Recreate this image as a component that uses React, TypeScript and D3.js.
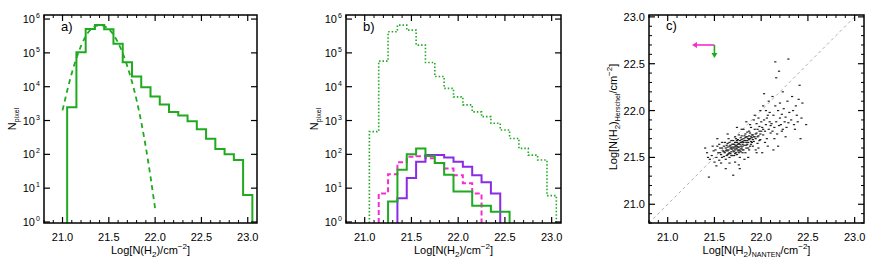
import React from 'react';
import * as d3 from 'd3';

const W = 872;
const H = 263;

// ---- data ----
const binWidth = 0.1;

// a) full map histogram
const aBinStart = [21.05, 21.15, 21.25, 21.35, 21.45, 21.55, 21.65, 21.75, 21.85, 21.95, 22.05, 22.15, 22.25, 22.35, 22.45, 22.55, 22.65, 22.75, 22.85, 22.95];
const aCounts = [2450, 105000, 510000, 670000, 500000, 185000, 53000, 20000, 9700, 5100, 3000, 1800, 1400, 950, 550, 290, 145, 100, 68, 6.3];
// a) log-normal fit (dashed)
const aFitX = [21.0, 21.1, 21.2, 21.3, 21.4, 21.5, 21.6, 21.7, 21.8, 21.9, 22.0];
const aFitY = [2000, 25000, 160000, 480000, 660000, 500000, 200000, 40000, 4000, 160, 2.5];

// b) whole region (dotted) + three sub regions
const bAllStart = [21.05, 21.15, 21.25, 21.35, 21.45, 21.55, 21.65, 21.75, 21.85, 21.95, 22.05, 22.15, 22.25, 22.35, 22.45, 22.55, 22.65, 22.75, 22.85, 22.95];
const bAllCounts = [470, 57000, 420000, 660000, 470000, 170000, 52000, 20000, 8900, 5000, 2900, 1800, 1300, 830, 525, 295, 150, 95, 68, 6];
const bGreenStart = [21.25, 21.35, 21.45, 21.55, 21.65, 21.75, 21.85, 21.95, 22.05, 22.15, 22.25, 22.35, 22.45];
const bGreenCounts = [4, 35, 100, 150, 90, 55, 25, 8, 8, 3, 3, 2, 2];
const bPurpleStart = [21.35, 21.45, 21.55, 21.65, 21.75, 21.85, 21.95, 22.05, 22.15, 22.25, 22.35];
const bPurpleCounts = [5, 20, 60, 95, 95, 80, 60, 43, 24, 15, 7];
const bMagentaStart = [21.15, 21.25, 21.35, 21.45, 21.55, 21.65, 21.75, 21.85, 21.95, 22.05, 22.15];
const bMagentaCounts = [7, 26, 58, 85, 88, 76, 55, 38, 24, 14, 7];

// c) NANTEN vs Herschel column density, [x, y]
const cPoints: [number, number][] = [
  [21.40, 21.60], [21.42, 21.55], [21.44, 21.29], [21.45, 21.48], [21.47, 21.52], [21.48, 21.62], [21.50, 21.45], [21.43, 21.50], [21.49, 21.57],
  [21.51, 21.58], [21.52, 21.50], [21.53, 21.62], [21.54, 21.55], [21.55, 21.47], [21.56, 21.60], [21.57, 21.53], [21.58, 21.66], [21.59, 21.57], [21.52, 21.41], [21.55, 21.64], [21.58, 21.50], [21.60, 21.62], [21.57, 21.44], [21.53, 21.70],
  [21.61, 21.55], [21.62, 21.60], [21.63, 21.52], [21.64, 21.65], [21.65, 21.58], [21.66, 21.62], [21.67, 21.54], [21.68, 21.68], [21.69, 21.59], [21.62, 21.48], [21.64, 21.57], [21.66, 21.50], [21.68, 21.61], [21.70, 21.64], [21.61, 21.66], [21.63, 21.58], [21.65, 21.70], [21.67, 21.63], [21.69, 21.52], [21.62, 21.38], [21.66, 21.44], [21.70, 21.31], [21.64, 21.75], [21.68, 21.56], [21.60, 21.51],
  [21.71, 21.60], [21.72, 21.66], [21.73, 21.55], [21.74, 21.62], [21.75, 21.69], [21.76, 21.58], [21.77, 21.64], [21.78, 21.71], [21.79, 21.60], [21.80, 21.67], [21.71, 21.52], [21.73, 21.63], [21.75, 21.57], [21.77, 21.50], [21.79, 21.66], [21.72, 21.72], [21.74, 21.68], [21.76, 21.74], [21.78, 21.56], [21.80, 21.62], [21.71, 21.64], [21.73, 21.70], [21.75, 21.61], [21.77, 21.68], [21.79, 21.73], [21.72, 21.58], [21.74, 21.53], [21.76, 21.65], [21.78, 21.62], [21.80, 21.55], [21.72, 21.45], [21.76, 21.42], [21.79, 21.80], [21.74, 21.82], [21.77, 21.38],
  [21.81, 21.70], [21.82, 21.63], [21.83, 21.75], [21.84, 21.66], [21.85, 21.72], [21.86, 21.60], [21.87, 21.69], [21.88, 21.76], [21.89, 21.64], [21.90, 21.71], [21.81, 21.58], [21.83, 21.68], [21.85, 21.64], [21.87, 21.78], [21.89, 21.67], [21.82, 21.73], [21.84, 21.60], [21.86, 21.70], [21.88, 21.62], [21.90, 21.66], [21.81, 21.80], [21.83, 21.55], [21.85, 21.77], [21.87, 21.58], [21.89, 21.82], [21.84, 21.88], [21.86, 21.50], [21.88, 21.85], [21.82, 21.48],
  [21.91, 21.74], [21.92, 21.67], [21.93, 21.80], [21.94, 21.70], [21.95, 21.76], [21.96, 21.65], [21.97, 21.73], [21.98, 21.83], [21.99, 21.69], [22.00, 21.78], [21.91, 21.62], [21.93, 21.72], [21.95, 21.86], [21.97, 21.60], [21.99, 21.75], [21.92, 21.90], [21.94, 21.58], [21.96, 21.80], [21.98, 21.68], [22.00, 21.88], [21.93, 21.95], [21.97, 21.92], [21.95, 21.55], [21.99, 22.00],
  [22.01, 21.82], [22.02, 21.74], [22.03, 21.90], [22.04, 21.78], [22.05, 21.85], [22.06, 21.70], [22.07, 21.95], [22.08, 21.80], [22.09, 21.88], [22.10, 21.76], [22.02, 22.05], [22.04, 21.66], [22.06, 21.92], [22.08, 22.10], [22.10, 21.84], [22.03, 22.18], [22.07, 21.62], [22.05, 22.00], [22.09, 21.98], [22.01, 21.55],
  [22.11, 21.86], [22.12, 21.78], [22.13, 21.95], [22.14, 21.82], [22.15, 22.05], [22.16, 21.88], [22.17, 21.75], [22.18, 22.00], [22.19, 21.84], [22.20, 21.92], [22.12, 22.15], [22.14, 21.70], [22.16, 22.35], [22.15, 22.52], [22.19, 22.42], [22.18, 21.62], [22.13, 21.58], [22.20, 22.08],
  [22.21, 21.85], [22.22, 21.96], [22.23, 21.80], [22.24, 22.02], [22.25, 21.88], [22.26, 21.93], [22.27, 21.82], [22.28, 22.10], [22.29, 21.87], [22.30, 21.98], [22.29, 22.55], [22.23, 22.20], [22.26, 21.72], [22.22, 21.78],
  [22.32, 21.90], [22.34, 22.00], [22.35, 21.85], [22.37, 22.05], [22.38, 21.95], [22.40, 22.12], [22.41, 22.27], [22.42, 21.70], [22.43, 21.92], [22.44, 22.08], [22.48, 21.85], [22.36, 21.80], [22.39, 21.88], [22.33, 22.15],
  // dense core
  [21.62, 21.57], [21.64, 21.61], [21.66, 21.55], [21.68, 21.59], [21.70, 21.57], [21.72, 21.62], [21.74, 21.59], [21.76, 21.61], [21.78, 21.66], [21.80, 21.64],
  [21.63, 21.63], [21.65, 21.54], [21.67, 21.60], [21.69, 21.64], [21.71, 21.56], [21.73, 21.60], [21.75, 21.64], [21.77, 21.57], [21.79, 21.69], [21.81, 21.66],
  [21.66, 21.66], [21.70, 21.61], [21.74, 21.66], [21.78, 21.59], [21.82, 21.68], [21.84, 21.72], [21.86, 21.66], [21.88, 21.70], [21.90, 21.74], [21.92, 21.72],
  [21.68, 21.52], [21.72, 21.54], [21.76, 21.55], [21.80, 21.58], [21.84, 21.63], [21.87, 21.73], [21.91, 21.69], [21.94, 21.75], [21.96, 21.72], [21.98, 21.78],
  [21.58, 21.60], [21.60, 21.56], [21.56, 21.55], [21.64, 21.53], [21.70, 21.68], [21.73, 21.66], [21.83, 21.71], [21.85, 21.68], [21.89, 21.72], [22.02, 21.80],
];
// c) upper-limit arrows: start point, magenta end (x), green end (y)
const arrowOrigin: [number, number] = [21.5, 22.7];
const arrowMagentaEndX = 21.26;
const arrowGreenEndY = 22.56;

// ---- axes ----
const xMajor = [21.0, 21.5, 22.0, 22.5, 23.0];
const cYMajor = [21.0, 21.5, 22.0, 22.5, 23.0];
const logMajor = [1, 10, 100, 1e3, 1e4, 1e5, 1e6];

const GREEN = '#1faa1f';
const PURPLE = '#8a2be8';
const MAGENTA = '#f52ccf';
const FONT = 'Liberation Sans, Arial, sans-serif';

const TOP = 15;
const BOTTOM = 223;

const minorX = d3.range(208, 231).map((d) => d / 10).filter((v) => !xMajor.some((m) => Math.abs(m - v) < 1e-6));

function stepPoints(starts: number[], vals: number[], floor: number): [number, number][] {
  const pts: [number, number][] = [[starts[0], floor]];
  starts.forEach((s, i) => {
    pts.push([s, vals[i]]);
    pts.push([s + binWidth, vals[i]]);
  });
  pts.push([starts[starts.length - 1] + binWidth, floor]);
  return pts;
}

function XAxes({ x, label }: { x: d3.ScaleLinear<number, number>; label: React.ReactNode }) {
  const [l, r] = x.range();
  return (
    <g>
      {xMajor.map((v) => (
        <g key={'M' + v}>
          <line x1={x(v)} x2={x(v)} y1={BOTTOM} y2={BOTTOM - 6} stroke="#000" strokeWidth={1.2} />
          <line x1={x(v)} x2={x(v)} y1={TOP} y2={TOP + 6} stroke="#000" strokeWidth={1.2} />
          <text x={x(v)} y={BOTTOM + 18} textAnchor="middle" fontSize={11}>{v.toFixed(1)}</text>
        </g>
      ))}
      {minorX.map((v) => (
        <g key={'m' + v}>
          <line x1={x(v)} x2={x(v)} y1={BOTTOM} y2={BOTTOM - 3} stroke="#000" strokeWidth={1} />
          <line x1={x(v)} x2={x(v)} y1={TOP} y2={TOP + 3} stroke="#000" strokeWidth={1} />
        </g>
      ))}
      <text x={(l + r) / 2} y={BOTTOM + 31} textAnchor="middle" fontSize={11}>{label}</text>
    </g>
  );
}

function LogYAxes({ y, left, right }: { y: d3.ScaleLogarithmic<number, number>; left: number; right: number }) {
  return (
    <g>
      {logMajor.map((v, i) => (
        <g key={v}>
          <line x1={left} x2={left + 6} y1={y(v)} y2={y(v)} stroke="#000" strokeWidth={1.2} />
          <line x1={right} x2={right - 6} y1={y(v)} y2={y(v)} stroke="#000" strokeWidth={1.2} />
          <text x={left - 9} y={y(v) + 4} textAnchor="end" fontSize={11}>10</text>
          <text x={left - 4} y={y(v) - 1} textAnchor="end" fontSize={7}>{i}</text>
        </g>
      ))}
    </g>
  );
}

const nhLabel = (
  <>
    Log[N(H<tspan fontSize={8} dy={3}>2</tspan><tspan dy={-3}>)/cm</tspan>
    <tspan fontSize={8} dy={-5}>−2</tspan><tspan dy={5}>]</tspan>
  </>
);

function NpixLabel({ x }: { x: number }) {
  return (
    <text transform={`translate(${x},119) rotate(-90)`} textAnchor="middle" fontSize={11}>
      N<tspan fontSize={7} dy={3}>pixel</tspan>
    </text>
  );
}

function Box({ left, right }: { left: number; right: number }) {
  return <rect x={left} y={TOP} width={right - left} height={BOTTOM - TOP} fill="none" stroke="#000" strokeWidth={1.5} />;
}

export default function App() {
  const yLog = d3.scaleLog().domain([10 ** -0.03, 10 ** 6.12]).range([BOTTOM, TOP]);
  const floor = yLog.domain()[0];

  // panel a
  const ax = d3.scaleLinear().domain([20.8, 23.1]).range([44, 257]);
  const aLine = d3.line<[number, number]>().x((d) => ax(d[0])).y((d) => yLog(d[1]));
  const aFit = d3.line<number>().x((d) => ax(d)).y((_, i) => yLog(aFitY[i])).curve(d3.curveMonotoneX);

  // panel b
  const bx = d3.scaleLinear().domain([20.8, 23.1]).range([346, 561]);
  const bLine = d3.line<[number, number]>().x((d) => bx(d[0])).y((d) => yLog(d[1]));

  // panel c
  const cx = d3.scaleLinear().domain([20.8, 23.1]).range([649, 864]);
  const cy = d3.scaleLinear().domain([20.8, 23.02]).range([BOTTOM, TOP]);
  const diagEnd = 23.02;
  const minorY = d3.range(208, 231).map((d) => d / 10).filter((v) => v <= 23.02 && !cYMajor.some((m) => Math.abs(m - v) < 1e-6));

  const [ox, oy] = arrowOrigin;

  return (
    <svg width={W} height={H} style={{ position: 'absolute', left: 0, top: 0, background: '#fff' }} fontFamily={FONT}>
      {/* ---------- a ---------- */}
      <path d={aLine(stepPoints(aBinStart, aCounts, floor)) || ''} fill="none" stroke={GREEN} strokeWidth={2} />
      <path d={aFit(aFitX) || ''} fill="none" stroke={GREEN} strokeWidth={1.8} strokeDasharray="5,4" />
      <Box left={44} right={257} />
      <XAxes x={ax} label={nhLabel} />
      <LogYAxes y={yLog} left={44} right={257} />
      <NpixLabel x={16} />
      <text x={61} y={31} fontSize={13}>a)</text>

      {/* ---------- b ---------- */}
      <path d={bLine(stepPoints(bAllStart, bAllCounts, floor)) || ''} fill="none" stroke={GREEN} strokeWidth={1.6} strokeDasharray="1.5,2" />
      <path d={bLine(stepPoints(bMagentaStart, bMagentaCounts, floor)) || ''} fill="none" stroke={MAGENTA} strokeWidth={2} strokeDasharray="5,3" />
      <path d={bLine(stepPoints(bPurpleStart, bPurpleCounts, floor)) || ''} fill="none" stroke={PURPLE} strokeWidth={2} />
      <path d={bLine(stepPoints(bGreenStart, bGreenCounts, floor)) || ''} fill="none" stroke={GREEN} strokeWidth={2} />
      <Box left={346} right={561} />
      <XAxes x={bx} label={nhLabel} />
      <LogYAxes y={yLog} left={346} right={561} />
      <NpixLabel x={318} />
      <text x={363} y={31} fontSize={13}>b)</text>

      {/* ---------- c ---------- */}
      <line x1={cx(20.8)} y1={cy(20.8)} x2={cx(diagEnd)} y2={cy(diagEnd)} stroke="#999" strokeWidth={0.8} strokeDasharray="3,3" />
      {cPoints.map(([px, py], i) => (
        <rect key={i} x={cx(px) - 1} y={cy(py) - 0.6} width={2.2} height={1.2} fill="#222" />
      ))}
      <line x1={cx(ox)} y1={cy(oy)} x2={cx(arrowMagentaEndX) + 4} y2={cy(oy)} stroke={MAGENTA} strokeWidth={1.6} />
      <path d={`M${cx(arrowMagentaEndX)},${cy(oy)} l5,-3 l0,6 z`} fill={MAGENTA} />
      <line x1={cx(ox)} y1={cy(oy)} x2={cx(ox)} y2={cy(arrowGreenEndY) - 4} stroke={GREEN} strokeWidth={1.6} />
      <path d={`M${cx(ox)},${cy(arrowGreenEndY)} l-3,-5 l6,0 z`} fill={GREEN} />
      <Box left={649} right={864} />
      <XAxes
        x={cx}
        label={
          <>
            Log[N(H<tspan fontSize={8} dy={3}>2</tspan><tspan dy={-3}>)</tspan>
            <tspan fontSize={7} dy={3}>NANTEN</tspan><tspan dy={-3}>/cm</tspan>
            <tspan fontSize={8} dy={-5}>−2</tspan><tspan dy={5}>]</tspan>
          </>
        }
      />
      {cYMajor.map((v) => (
        <g key={v}>
          <line x1={649} x2={655} y1={cy(v)} y2={cy(v)} stroke="#000" strokeWidth={1.2} />
          <line x1={864} x2={858} y1={cy(v)} y2={cy(v)} stroke="#000" strokeWidth={1.2} />
          <text x={645} y={cy(v) + 4} textAnchor="end" fontSize={11}>{v.toFixed(1)}</text>
        </g>
      ))}
      {minorY.map((v) => (
        <g key={'my' + v}>
          <line x1={649} x2={652} y1={cy(v)} y2={cy(v)} stroke="#000" strokeWidth={1} />
          <line x1={864} x2={861} y1={cy(v)} y2={cy(v)} stroke="#000" strokeWidth={1} />
        </g>
      ))}
      <text transform="translate(617,117) rotate(-90)" textAnchor="middle" fontSize={11}>
        Log[N(H<tspan fontSize={8} dy={3}>2</tspan><tspan dy={-3}>)</tspan>
        <tspan fontSize={7} dy={3}>Herschel</tspan><tspan dy={-3}>/cm</tspan>
        <tspan fontSize={8} dy={-5}>−2</tspan><tspan dy={5}>]</tspan>
      </text>
      <text x={666} y={30} fontSize={13}>c)</text>
    </svg>
  );
}
